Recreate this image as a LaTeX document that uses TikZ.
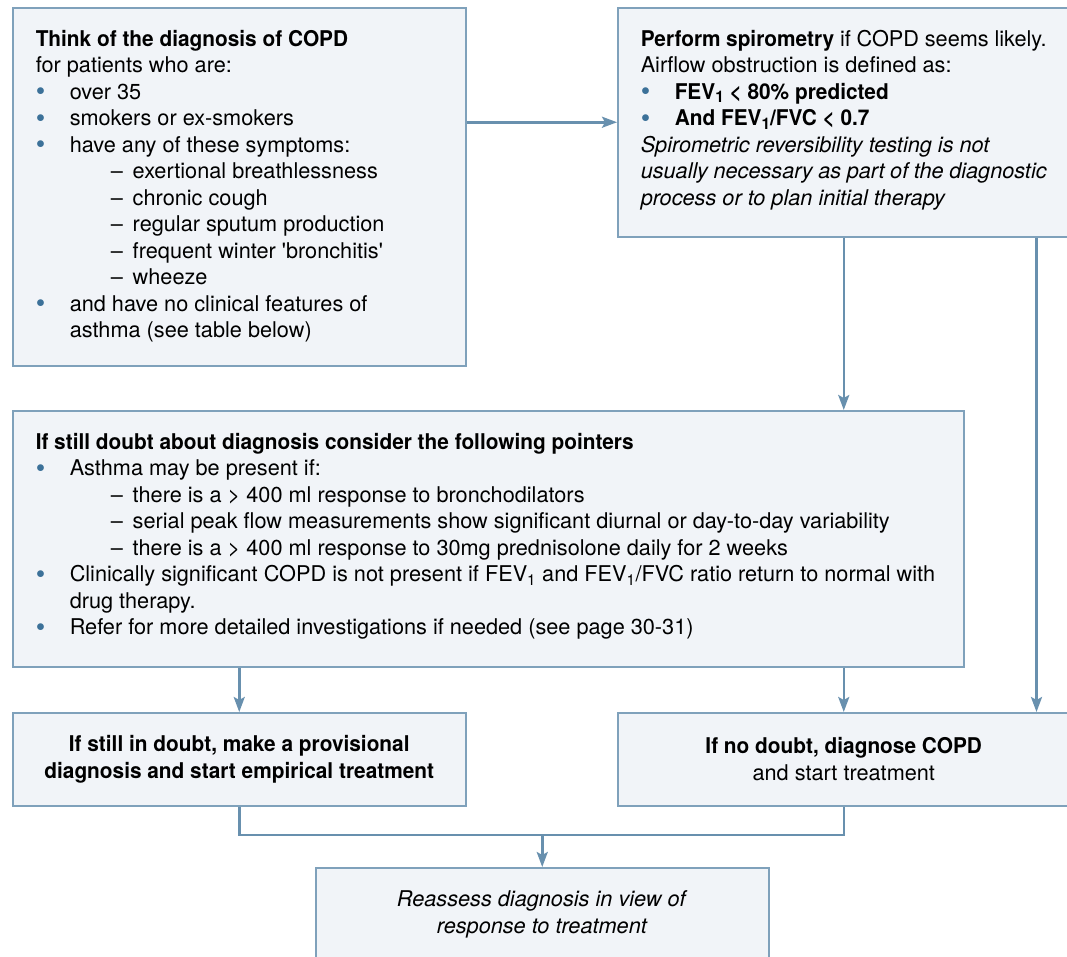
\documentclass[tikz,border=0pt]{standalone}
\usepackage{fontspec}
\setmainfont{TeX Gyre Heros}[BoldFeatures={FakeStretch=0.96}]
\usepackage{graphicx}
\usetikzlibrary{positioning}
\usetikzlibrary{arrows.meta}
\usepackage{xcolor}
\definecolor{boxfill}{HTML}{F1F4F8}
\definecolor{boxline}{HTML}{7FA1BB}
\definecolor{flowblue}{HTML}{6890AE}
\definecolor{dotblue}{HTML}{3C7199}
\newcommand{\bul}{\makebox[34pt][l]{\textcolor{dotblue}{\smash{\raisebox{-1.5pt}{\scalebox{1.25}{\textbullet}}}}}}
\newcommand{\dsh}{\hspace*{75pt}\makebox[22pt][l]{--}}
\newcommand{\subone}{\raisebox{-0.3ex}{\fontsize{16}{16}\selectfont 1}}

\begin{document}
\begin{tikzpicture}[x=1pt, y=-1pt,
boxnode/.style={rectangle, draw=boxline, fill=boxfill, line width=1.5pt, inner xsep=23pt, inner ysep=20pt, anchor=north west, font=\fontsize{21.7}{26.5}\selectfont},
endnode/.style={rectangle, draw=boxline, fill=boxfill, line width=1.5pt, inner sep=0pt, anchor=north west, align=center, minimum height=93pt, font=\fontsize{21.7}{26.5}\selectfont},
flowline/.style={draw=flowblue, line width=2.5pt},
flowarrow/.style={flowline, -{Stealth[length=15pt, width=11pt, inset=3pt]}}]
\useasboundingbox (0,0) rectangle (1067,956);

\node[boxnode] (think) at (12,7) {\parbox[c][318pt][t]{407pt}{\strut\textbf{Think of the diagnosis of COPD}\\
for patients who are:\\
\bul over 35\\
\bul smokers or ex-smokers\\
\bul have any of these symptoms:\\
\dsh exertional breathlessness\\
\dsh chronic cough\\
\dsh regular sputum production\\
\dsh frequent winter \textquotesingle bronchitis\textquotesingle\\
\dsh wheeze\\
\bul and have no clinical features of\\
\hspace*{34pt}asthma (see table below)}};

\node[boxnode] (spiro) at (617,7) {\parbox[c][189pt][t]{406pt}{\strut\textbf{Perform spirometry} if COPD seems likely.\\
Airflow obstruction is defined as:\\
\bul\textbf{FEV\subone{} < 80\% predicted}\\
\bul\textbf{And FEV\subone/FVC < 0.7}\\
\textit{Spirometric reversibility testing is not}\\
\textit{usually necessary as part of the diagnostic}\\
\textit{process or to plan initial therapy}}};

\node[boxnode] (doubt) at (12,410) {\parbox[c][216pt][t]{905pt}{\strut\textbf{If still doubt about diagnosis consider the following pointers}\\
\bul Asthma may be present if:\\
\dsh there is a > 400 ml response to bronchodilators\\
\dsh serial peak flow measurements show significant diurnal or day-to-day variability\\
\dsh there is a > 400 ml response to 30mg prednisolone daily for 2 weeks\\
\bul Clinically significant COPD is not present if FEV\textsubscript{1} and FEV\textsubscript{1}/FVC ratio return to normal with\\
\hspace*{34pt}drug therapy.\\
\bul Refer for more detailed investigations if needed (see page 30-31)}};

\node[endnode, minimum width=453pt] (prov) at (12,712) {\textbf{If still in doubt, make a provisional}\\ \textbf{diagnosis and start empirical treatment}};
\node[endnode, minimum width=452pt] (nodoubt) at (617,712) {\textbf{If no doubt, diagnose COPD}\\ and start treatment};
\node[endnode, minimum width=453pt] (reassess) at (315,867) {\textit{Reassess diagnosis in view of}\\ \textit{response to treatment}};

\coordinate (merge) at ([yshift=32pt]reassess.north);

\draw[flowarrow] (think.east |- spiro.west) -- (spiro.west);
\draw[flowarrow] (spiro.south) -- (spiro.south |- doubt.north);
\draw[flowarrow] ([xshift=-34pt]spiro.south east) -- ([xshift=-34pt]nodoubt.north east);
\draw[flowarrow] (prov.north |- doubt.south) -- (prov.north);
\draw[flowarrow] (nodoubt.north |- doubt.south) -- (nodoubt.north);
\draw[flowline] (prov.south) |- (merge) -| (nodoubt.south);
\draw[flowarrow] (merge) -- (reassess.north);
\end{tikzpicture}
\end{document}
